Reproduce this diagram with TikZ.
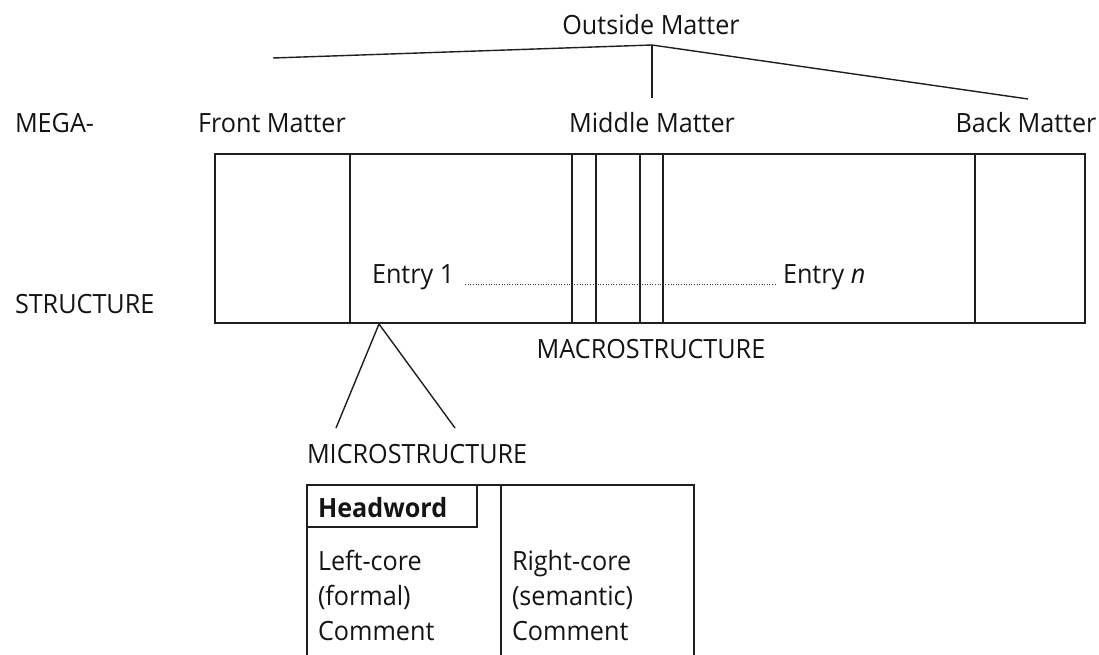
\documentclass[tikz,border=0pt]{standalone}
\usepackage{fontspec}
\setmainfont{Open Sans}[FakeStretch=0.95]
\begin{document}
\begin{tikzpicture}[x=1pt,y=-1pt,
  every node/.style={inner sep=0pt, outer sep=0pt, text=black!92},
  lbl/.style={font=\fontsize{26.5}{35}\selectfont},
  frame/.style={draw=black!88, line width=1.7pt},
  branch/.style={draw=black!88, line width=1.4pt},
  dots/.style={draw=black!80, line width=1pt, dash pattern=on 1pt off 1.6pt}]
\useasboundingbox (0,0) rectangle (1099,655);

% level labels
\node[lbl, anchor=base west] (mega) at (15,133) {MEGA-};
\node[lbl, anchor=base west] (struct) at (15,313) {STRUCTURE};

% outside matter and its three branches
\node[lbl, anchor=base] (outside) at (651,35) {Outside Matter};
\coordinate (apex) at (652,45);
\coordinate (fmtip) at (273,58);
\coordinate (mmtip) at (652,98);
\coordinate (bmtip) at (1028,99);
\draw[branch] (fmtip) -- (apex) -- (bmtip);
\draw[branch] (apex) -- (mmtip);

\node[lbl, anchor=base] (front) at (272,133) {Front Matter};
\node[lbl, anchor=base] (middle) at (652,133) {Middle Matter};
\node[lbl, anchor=base] (back) at (1026,133) {Back Matter};

% the book as a strip of sections
\node[frame, anchor=north west, minimum width=870pt, minimum height=169pt] (book) at (215,154) {};
\foreach \xx in {350,572,596,640,663,975}
  \draw[frame] (\xx,154) -- (\xx,323);

\node[lbl, anchor=base west] (e1) at (372,283) {Entry 1};
\node[lbl, anchor=base west] (en) at (783,283) {Entry \textit{n}};
\draw[dots] ([xshift=11pt,yshift=-1pt]e1.base east) -- ([xshift=-6pt,yshift=-1pt]en.base west);

\node[lbl, anchor=base] (macro) at (651,358) {MACROSTRUCTURE};

% an entry opened up
\coordinate (micapex) at (379,324);
\coordinate (micl) at (336,428);
\coordinate (micr) at (455,428);
\draw[branch] (micl) -- (micapex) -- (micr);

\node[lbl, anchor=base west] (micro) at (307,463) {MICROSTRUCTURE};

% entry layout
\draw[frame] (307,655) -- (307,485) -- (694,485) -- (694,655);
\draw[frame] (501,485) -- (501,655);
\node[frame, anchor=north west, minimum width=170pt, minimum height=42pt] (hwbox) at (307,485) {};
\node[lbl, anchor=base west, font=\fontsize{26.5}{35}\selectfont\bfseries] (hw) at (318,517) {Headword};

\node[lbl, anchor=base west] (lc1) at (318,570) {Left-core};
\node[lbl, anchor=base west] (lc2) at (318,605) {(formal)};
\node[lbl, anchor=base west] (lc3) at (318,640) {Comment};
\node[lbl, anchor=base west] (rc1) at (512,570) {Right-core};
\node[lbl, anchor=base west] (rc2) at (512,605) {(semantic)};
\node[lbl, anchor=base west] (rc3) at (512,640) {Comment};
\end{tikzpicture}
\end{document}
